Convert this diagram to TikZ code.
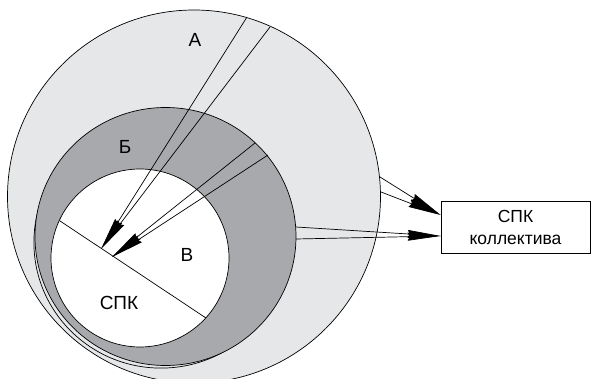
\documentclass[tikz,border=0pt]{standalone}
\usepackage{fontspec}
\setmainfont{Liberation Sans}
\usetikzlibrary{arrows.meta}
\definecolor{lightA}{HTML}{E6E7E8}
\definecolor{darkB}{HTML}{A7A9AC}
\begin{document}
\begin{tikzpicture}[x=1pt,y=-1pt,line width=0.7pt,
    lbl/.style={font=\fontsize{19}{22}\selectfont},
    arr/.style={-{Stealth[length=33pt,width=8pt,inset=2pt]}}]
  \useasboundingbox (0,0) rectangle (592,379);

  % zones
  \draw[fill=lightA] (194,196.5) circle (186.5pt);
  \draw[fill=lightA] (161,242.5) ellipse (127.1pt and 125.6pt);
  \draw[fill=darkB] (165.5,236.5) ellipse (130.5pt and 129pt);
  \draw[fill=white] (140,258) circle (89pt);
  \draw (60,221) -- (206,318);

  \node[lbl] (labA) at (195,40) {А};
  \node[lbl] (labB) at (125,147) {Б};
  \node[lbl] (labV) at (187,255) {В};
  \node[lbl] (spk) at (119,303) {СПК};

  \node[draw,fill=white,minimum width=149pt,minimum height=52pt,inner sep=0pt,
        align=center,font=\fontsize{17.5}{22}\selectfont] (box) at (515.5,227)
        {СПК\\коллектива};

  % points on the circles
  \coordinate (a1) at (247,17);
  \coordinate (a2) at (270,27);
  \coordinate (b1) at (255,143);
  \coordinate (b2) at (268,155);
  \coordinate (a3) at (380,177);
  \coordinate (a4) at (381,192);
  \coordinate (b3) at (296,227);
  \coordinate (b4) at (296,239);
  \coordinate (tipA) at (101,249);
  \coordinate (tipB) at (112,257);
  \coordinate (inA) at ([yshift=12pt]box.west);
  \coordinate (inB) at ([yshift=-9pt]box.west);

  \draw[arr] (a1) -- (tipA);
  \draw[arr] (a2) -- (tipA);
  \draw[arr] (b1) -- (tipB);
  \draw[arr] (b2) -- (tipB);
  \draw[arr] (a3) -- (inA);
  \draw[arr] (a4) -- (inA);
  \draw[arr] (b3) -- (inB);
  \draw[arr] (b4) -- (inB);
\end{tikzpicture}
\end{document}
